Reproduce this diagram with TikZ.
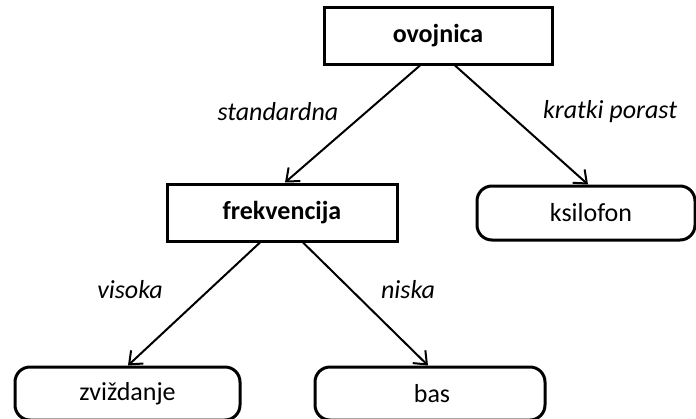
\documentclass[tikz,border=0pt]{standalone}
\usepackage{fontspec}
\setmainfont{Carlito}
\usetikzlibrary{arrows.meta,calc}
\begin{document}
\begin{tikzpicture}[x=1pt,y=-1pt,
  every node/.style={font=\fontsize{26}{30}\selectfont, inner sep=0pt},
  decision/.style={draw, line width=3pt, font=\fontsize{26}{30}\selectfont\bfseries},
  leaf/.style={draw, line width=3pt, rounded corners=15pt},
  edgelabel/.style={font=\fontsize{26}{30}\selectfont\itshape},
  conn/.style={line width=2pt, -{Straight Barb[length=11pt,width=18pt,line width=2pt]}}
]
\useasboundingbox (0,0) rectangle (696,418);
\node[decision, minimum width=228pt, minimum height=57pt] (ovo) at (438,35.5) {\raisebox{-3pt}{ovojnica}};
\node[decision, minimum width=230pt, minimum height=57pt] (frek) at (282,212.5) {\raisebox{-1pt}{frekvencija}};
\node[leaf, minimum width=218pt, minimum height=54pt] (ksi) at (586,213) {\hspace{10pt}ksilofon};
\node[leaf, minimum width=225pt, minimum height=53pt] (zvi) at (127.5,393.5) {zvi\v{z}danje};
\node[leaf, minimum width=230pt, minimum height=53pt] (bas) at (430,393.5) {\hspace{4pt}bas};

\coordinate (o1) at ($(ovo.south)+(-18,0)$);
\coordinate (o2) at ($(ovo.south)+(17,0)$);
\coordinate (f1) at ($(frek.south)+(-22,0)$);
\coordinate (f2) at ($(frek.south)+(21,0)$);
\coordinate (t1) at ($(frek.north)+(3,0)$);
\coordinate (t2) at ($(ksi.north)+(2,0)$);
\coordinate (t3) at ($(zvi.north)+(0.5,0)$);
\coordinate (t4) at ($(bas.north)+(-2,0)$);

\draw[conn] (o1) -- (t1);
\draw[conn] (o2) -- (t2);
\draw[conn] (f1) -- (t3);
\draw[conn] (f2) -- (t4);

\node[edgelabel] (l1) at (278,112) {standardna};
\node[edgelabel] (l2) at (610,112) {kratki porast};
\node[edgelabel] (l3) at (130,290) {visoka};
\node[edgelabel] (l4) at (408,290) {niska};
\end{tikzpicture}
\end{document}
